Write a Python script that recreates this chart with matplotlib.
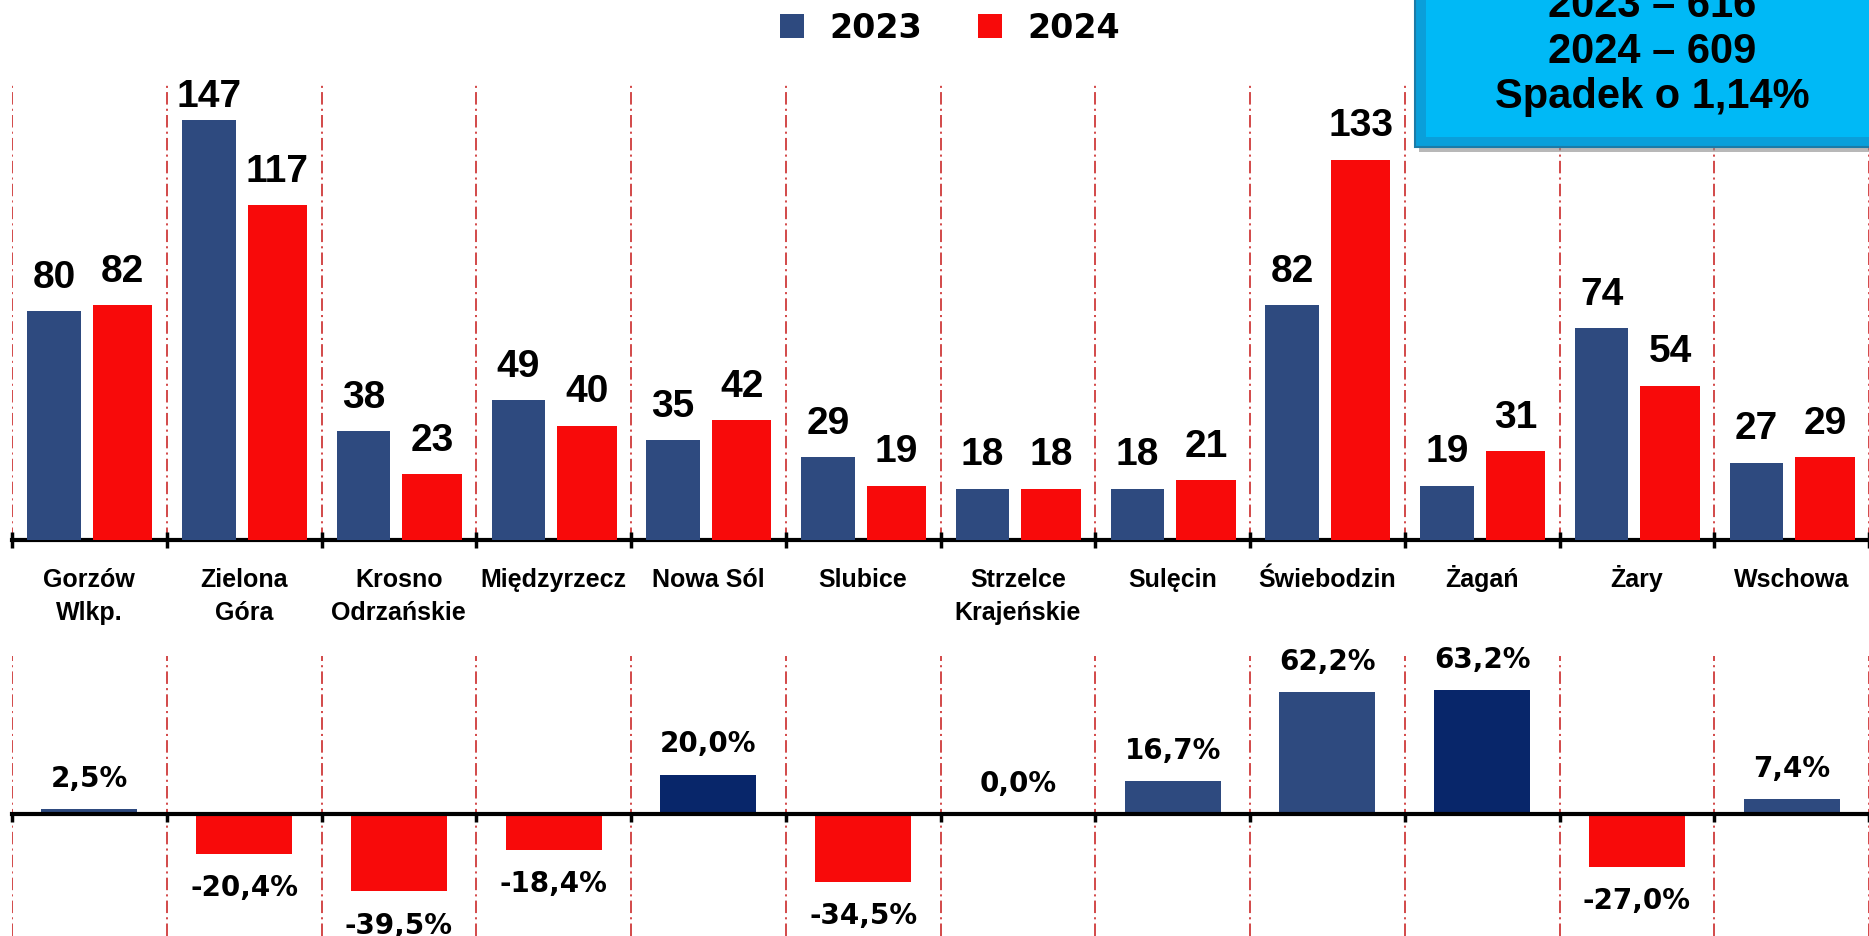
import matplotlib
matplotlib.use("Agg")
import matplotlib.pyplot as plt
from matplotlib import font_manager
from matplotlib.patches import Rectangle
from matplotlib.transforms import blended_transform_factory
import numpy as np

# ---------------- data ----------------
categories = ["Gorzów\nWlkp.", "Zielona\nGóra", "Krosno\nOdrzańskie", "Międzyrzecz",
              "Nowa Sól", "Slubice", "Strzelce\nKrajeńskie", "Sulęcin",
              "Świebodzin", "Żagań", "Żary", "Wschowa"]
values_2023 = [80, 147, 38, 49, 35, 29, 18, 18, 82, 19, 74, 27]
values_2024 = [82, 117, 23, 40, 42, 19, 18, 21, 133, 31, 54, 29]
change_pct = [2.5, -20.4, -39.5, -18.4, 20.0, -34.5, 0.0, 16.7, 62.2, 63.2, -27.0, 7.4]
series_labels = ["2023", "2024"]
summary_lines = ["2023 – 616", "2024 – 609", "Spadek o 1,14%"]
highlight = ["Nowa Sól", "Żagań"]

# ---------------- style ----------------
plt.rcParams["font.family"] = ["Liberation Sans", "DejaVu Sans"]
plt.rcParams["lines.scale_dashes"] = False
names = {f.name for f in font_manager.fontManager.ttflist}
if "Liberation Sans Narrow" in names:
    cat_family = ["Liberation Sans Narrow", "Liberation Sans", "DejaVu Sans"]
    cat_size = 21
else:
    cat_family = ["Liberation Sans", "DejaVu Sans"]
    cat_size = 18
WIDE = ["DejaVu Sans"]

NAVY = "#2E4A7F"
DARK_NAVY = "#08266A"
RED = "#F80A0A"
GRID_RED = "#CF3A3A"
DASH = (0, (9, 3, 1.5, 3))

W, H = 1869, 937
fig = plt.figure(figsize=(W / 100, H / 100), dpi=100)

X0 = 12.0          # left boundary pixel
CAT_W = 155.7      # category width in px
x_left = -0.5
x_right = -0.5 + (W - X0) / CAT_W
n = len(categories)
x = np.arange(n)
bounds = np.arange(n + 1) - 0.5

# ---------------- top panel ----------------
base_top = 541.0
scale_top = 2.86
ax1 = fig.add_axes([X0 / W, 1 - base_top / H, (W - X0) / W, base_top / H])
ax1.set_xlim(x_left, x_right)
ymax1 = base_top / scale_top
ax1.set_ylim(0, ymax1)
b1 = ax1.bar(x - 0.228, values_2023, width=0.345, color=NAVY, label=series_labels[0], zorder=3)
b2 = ax1.bar(x + 0.215, values_2024, width=0.385, color=RED, label=series_labels[1], zorder=3)
for xi, v in zip(x - 0.228, values_2023):
    ax1.text(xi, min(v + 12, ymax1 - 34), str(v), ha="center", va="center", fontsize=28,
             fontweight="bold", zorder=5)
for xi, v in zip(x + 0.215, values_2024):
    ax1.text(xi, min(v + 12, ymax1 - 34), str(v), ha="center", va="center", fontsize=28,
             fontweight="bold", zorder=5)
grid_top = (base_top - 84) / scale_top
for b in bounds:
    ax1.plot([b, b], [0, grid_top], color=GRID_RED, lw=1.3, ls=DASH, zorder=1)
for s in ["top", "right", "left"]:
    ax1.spines[s].set_visible(False)
ax1.spines["bottom"].set_linewidth(3)
ax1.set_yticks([])
ax1.set_xticks(bounds)
ax1.set_xticklabels([])
ax1.tick_params(axis="x", direction="inout", length=12, width=2.5, color="black")
trans = blended_transform_factory(ax1.transData, ax1.transAxes)
for xi, lab in zip(x, categories):
    for k, line in enumerate(lab.split("\n")):
        ax1.text(xi, (-46 - 33 * k) / base_top, line, transform=trans, ha="center",
                 va="baseline", fontsize=cat_size, fontweight="bold",
                 family=cat_family, clip_on=False)

# ---------------- bottom panel ----------------
base_bot = 815.0
scale_bot = 1.96
top_px = 640.0
ax2 = fig.add_axes([X0 / W, 0, (W - X0) / W, (H - top_px) / H])
ax2.set_xlim(x_left, x_right)
ax2.set_ylim(-(H - base_bot) / scale_bot, (base_bot - top_px) / scale_bot)
cols = [RED if v < 0 else (DARK_NAVY if c in highlight else NAVY)
        for v, c in zip(change_pct, categories)]
ax2.bar(x, change_pct, width=0.62, color=cols, zorder=3)
for xi, v in zip(x, change_pct):
    txt = f"{v:.1f}".replace(".", ",") + "%"
    y = v + 16 if v >= 0 else v - 17
    ax2.text(xi, y, txt, ha="center", va="center", fontsize=20, fontweight="bold",
             family=WIDE, zorder=5)
grid_top2 = (base_bot - 657) / scale_bot
ymin2 = ax2.get_ylim()[0]
for b in bounds:
    ax2.plot([b, b], [ymin2, grid_top2], color=GRID_RED, lw=1.3, ls=DASH, zorder=1)
for s in ["top", "right", "left"]:
    ax2.spines[s].set_visible(False)
ax2.spines["bottom"].set_position(("data", 0))
ax2.spines["bottom"].set_linewidth(3)
ax2.spines["bottom"].set_zorder(4)
ax2.set_yticks([])
ax2.set_xticks(bounds)
ax2.set_xticklabels([])
ax2.tick_params(axis="x", direction="out", length=6, width=2.5, color="black")

# ---------------- legend ----------------
fig.legend([b1, b2], series_labels, loc="center", bbox_to_anchor=(950 / W, 1 - 29 / H),
           ncol=2, frameon=False,
           prop=font_manager.FontProperties(family=WIDE, weight="bold", size=24),
           handlelength=0.72, handleheight=0.72, handletextpad=0.75, columnspacing=1.7)

# ---------------- summary box ----------------
def fx(px):
    return px / W

def fy(py):
    return 1 - py / H

shadow = Rectangle((fx(1419), fy(153)), fx(1950) - fx(1419), fy(-20) - fy(153),
                   transform=fig.transFigure, facecolor="#8A8A8A", edgecolor="none",
                   alpha=0.6, zorder=10)
outer = Rectangle((fx(1415), fy(148)), fx(1950) - fx(1415), fy(-20) - fy(148),
                  transform=fig.transFigure, facecolor="#0A9FDA", edgecolor="#1B7BA8",
                  lw=1.5, zorder=11)
inner = Rectangle((fx(1426), fy(138)), fx(1950) - fx(1426), fy(-20) - fy(138),
                  transform=fig.transFigure, facecolor="#00B9F6", edgecolor="none",
                  zorder=12)
for p in (shadow, outer, inner):
    fig.add_artist(p)
for line, base in zip(summary_lines, [17, 63, 108]):
    fig.text(fx(1652), fy(base), line, ha="center", va="baseline", fontsize=30,
             fontweight="bold", zorder=13)

fig.savefig("out.png", dpi=100)
